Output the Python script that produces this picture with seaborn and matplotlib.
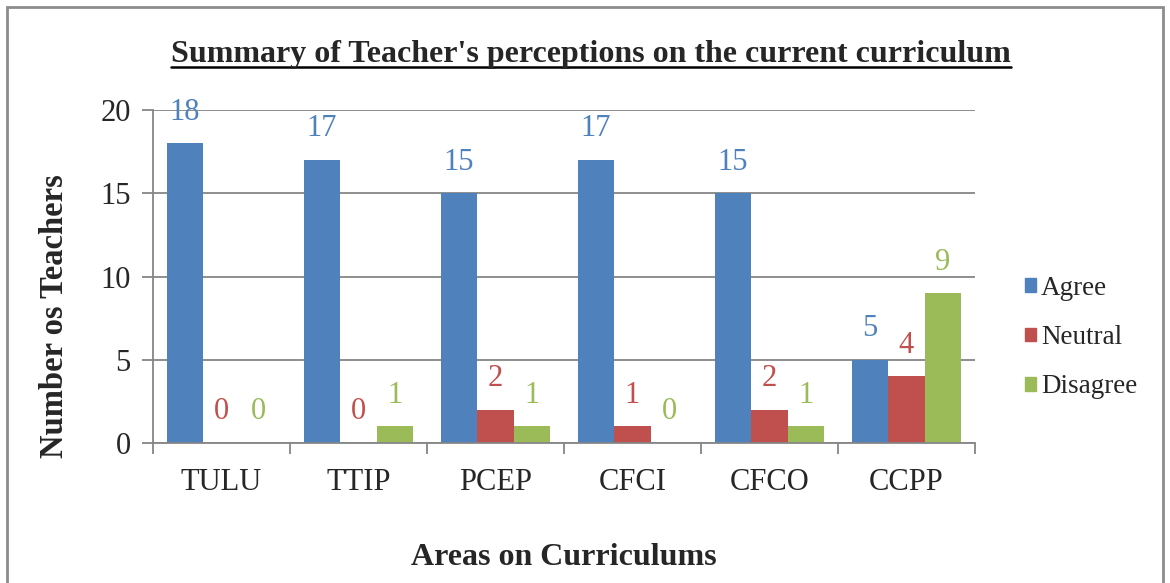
#!/usr/bin/env python3
"""
Teacher perceptions summary chart (grouped bar)
"""

import pandas as pd
import matplotlib.pyplot as plt
import seaborn as sns
from matplotlib.lines import Line2D
from matplotlib.patches import Rectangle

# 데이터
areas = ["TULU", "TTIP", "PCEP", "CFCI", "CFCO", "CCPP"]
responses = ["Agree", "Neutral", "Disagree"]
agree = [18, 17, 15, 17, 15, 5]
neutral = [0, 0, 2, 1, 2, 4]
disagree = [0, 1, 1, 0, 1, 9]
colors = ["#4F81BD", "#C0504D", "#9BBB59"]

df = pd.DataFrame({
    "area": areas * 3,
    "response": [r for r in responses for _ in areas],
    "count": agree + neutral + disagree,
})

sns.set_theme(style="white")
plt.rcParams["font.family"] = ["Liberation Serif", "DejaVu Serif"]

fig = plt.figure(figsize=(11.7, 5.83), dpi=100)
ax = fig.add_axes([0.1308, 0.2401, 0.8333 - 0.1308, 0.8113 - 0.2401])

sns.barplot(data=df, x="area", y="count", hue="response", order=areas,
            hue_order=responses, palette=colors, width=0.8, saturation=1,
            linewidth=0, legend=False, ax=ax)

# 막대 위 값 표시
for cont, c in zip(ax.containers, colors):
    ax.bar_label(cont, labels=[str(int(v)) for v in cont.datavalues],
                 padding=12, color=c, fontsize=22)

ax.set_ylim(0, 20)
ax.set_xlim(-0.5, len(areas) - 0.5)
ax.set_yticks([0, 5, 10, 15, 20])
ax.yaxis.grid(True, color="#868686", linewidth=1.3)
ax.set_axisbelow(True)

for s in ["top", "right"]:
    ax.spines[s].set_visible(False)
for s in ["left", "bottom"]:
    ax.spines[s].set_color("#868686")
    ax.spines[s].set_linewidth(1.3)

# x축 눈금: 카테고리 경계에 표시
ax.set_xticks([i - 0.5 for i in range(len(areas) + 1)], minor=True)
ax.tick_params(axis="x", which="minor", direction="out", length=8,
               width=1.3, color="#868686", bottom=True)
ax.tick_params(axis="x", which="major", length=0, pad=18, labelsize=22)
ax.tick_params(axis="y", direction="out", length=8, width=1.3,
               color="#868686", pad=8, labelsize=22, left=True)

ax.set_xlabel("Areas on Curriculums", fontsize=23, fontweight="bold")
ax.xaxis.set_label_coords(0.5, -0.30)
ax.set_ylabel("Number os Teachers", fontsize=23.5, fontweight="bold")
ax.yaxis.set_label_coords(-0.101, 0.38)

# 범례
handles = [Rectangle((0, 0), 1, 1, color=c) for c in colors]
fig.legend(handles, responses, loc="upper left",
           bbox_to_anchor=(0.855, 0.569), frameon=False, fontsize=19.5,
           handlelength=0.4, handleheight=0.4, handletextpad=0.2,
           labelspacing=0.9)

# 제목 + 밑줄
title = fig.text(0.505, 0.8937, "Summary of Teacher's perceptions on the current curriculum",
                 ha="center", va="baseline", fontsize=23, fontweight="bold")
fig.canvas.draw()
bb = title.get_window_extent().transformed(fig.transFigure.inverted())
fig.add_artist(Line2D([bb.x0, bb.x1], [0.885, 0.885],
                      color="black", linewidth=1.8, transform=fig.transFigure))

# 바깥 테두리
fig.add_artist(Rectangle((0.006, -0.02), 0.988, 1.008, fill=False,
                         edgecolor="#8c8c8c", linewidth=2,
                         transform=fig.transFigure))

fig.savefig("out.png", dpi=100)
